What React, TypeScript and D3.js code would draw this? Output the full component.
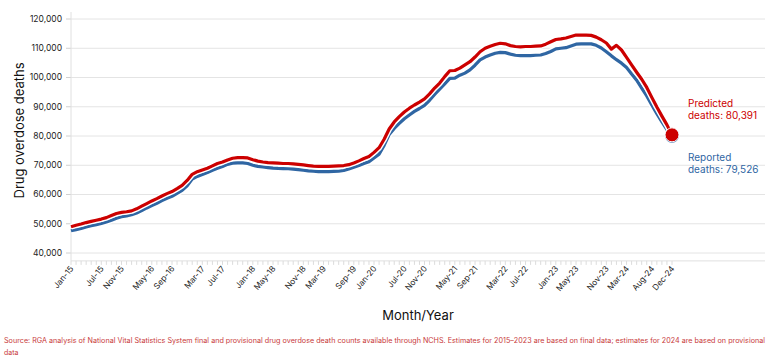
import React from "react";
import * as d3 from "d3";

const years = [15, 16, 17, 18, 19, 20, 21, 22, 23, 24];
const monthNames = ["Jan", "Feb", "Mar", "Apr", "May", "Jun", "Jul", "Aug", "Sep", "Oct", "Nov", "Dec"];
const months = years.flatMap((yr) => monthNames.map((m) => m + "-" + yr));

const shownLabels = [
  "Jan-15", "Jul-15", "Nov-15", "May-16", "Sep-16", "Mar-17", "Jul-17", "Jan-18", "May-18",
  "Nov-18", "Mar-19", "Sep-19", "Jan-20", "Jul-20", "Nov-20", "May-21", "Sep-21", "Mar-22",
  "Jul-22", "Jan-23", "May-23", "Nov-23", "Mar-24", "Aug-24", "Dec-24",
];

const yTicks = [40000, 50000, 60000, 70000, 80000, 90000, 100000, 110000, 120000];

// reported deaths (12-month counts), Jan-15 .. Dec-24
const reported = [
  47600, 48000, 48400, 48900, 49300, 49700, 50100, 50600, 51200, 51900, 52400, 52700,
  53100, 53700, 54500, 55400, 56200, 57000, 57900, 58700, 59400, 60400, 61400, 63000,
  65300, 66200, 66800, 67500, 68300, 69000, 69600, 70300, 70700, 70800, 70800, 70600,
  70000, 69600, 69400, 69200, 69000, 68900, 68850, 68800, 68700, 68500, 68300, 68100,
  67950, 67800, 67800, 67800, 67900, 67950, 68200, 68700, 69300, 69900, 70600, 71200,
  72500, 73800, 76800, 80500, 82600, 84300, 85900, 87200, 88400, 89400, 90500, 92200,
  94200, 96000, 97800, 99700, 99800, 100800, 101500, 102600, 104200, 106000, 107000, 107700,
  108300, 108600, 108500, 108000, 107600, 107500, 107500, 107500, 107600, 107700, 108200, 108900,
  109800, 110000, 110200, 110800, 111400, 111500, 111500, 111500, 111000, 110100, 108800, 107400,
  106100, 104900, 103400, 101200, 99100, 96400, 93700, 90600, 87600, 84800, 82200, 79526,
];

// predicted deaths, Jan-15 .. Dec-24
const predicted = [
  49000, 49500, 49900, 50400, 50800, 51200, 51600, 52100, 52800, 53500, 53900, 54100,
  54400, 55100, 56000, 56900, 57800, 58600, 59500, 60300, 61000, 62000, 63100, 64800,
  66900, 67800, 68400, 69000, 69800, 70600, 71100, 71800, 72400, 72600, 72600, 72500,
  71900, 71400, 71100, 70900, 70800, 70700, 70600, 70600, 70500, 70300, 70100, 69900,
  69700, 69600, 69600, 69600, 69700, 69800, 69900, 70200, 70800, 71500, 72300, 73000,
  74400, 76000, 78900, 82400, 84800, 86600, 88200, 89500, 90600, 91600, 92700, 94400,
  96400, 98100, 100300, 102300, 102400, 103200, 104300, 105400, 107000, 108800, 110000, 110700,
  111300, 111700, 111500, 110900, 110600, 110500, 110600, 110600, 110700, 110800, 111400, 112200,
  113000, 113200, 113500, 114000, 114500, 114500, 114500, 114400, 113800, 112900, 111800, 109700,
  111000, 109400, 106900, 104300, 101800, 99400, 96600, 93200, 89900, 86800, 83800, 80391,
];

const RED = "#cc0000";
const BLUE = "#2f66a3";
const FONT = "Inter, 'Open Sans', sans-serif";

export default function App() {
  const W = 778;
  const H = 364;
  const left = 71;
  const right = 672;
  const gridRight = 765;

  const x = d3.scaleLinear().domain([0, months.length - 1]).range([left, right]);
  const y = d3.scaleLinear().domain([40000, 120000]).range([253, 19]);
  const axisY = y(37300);
  const topY = y(122400);

  const line = d3
    .line<number>()
    .x((_, i) => x(i))
    .y((d) => y(d));

  const last = months.length - 1;
  const fmt = d3.format(",");

  return (
    <svg
      width={W}
      height={H}
      style={{ position: "absolute", left: 0, top: 0, background: "#fff" }}
      fontFamily={FONT}
    >
      {/* grid */}
      {yTicks.map((t) => (
        <g key={t}>
          <line x1={left} x2={gridRight} y1={y(t)} y2={y(t)} stroke="#e4e4e4" strokeWidth={1} />
          <line x1={left - 5} x2={left} y1={y(t)} y2={y(t)} stroke="#d0d0d0" strokeWidth={1} />
          <text x={left - 9} y={y(t)} dy="0.35em" textAnchor="end" fontSize={8.5} fill="#222">
            {fmt(t)}
          </text>
        </g>
      ))}
      <line x1={left} x2={left} y1={topY} y2={axisY} stroke="#e0e0e0" />
      <line x1={left} x2={gridRight} y1={axisY} y2={axisY} stroke="#e0e0e0" />

      {/* month ticks */}
      {months.map((m, i) => (
        <line key={m} x1={x(i)} x2={x(i)} y1={axisY} y2={axisY + 4} stroke="#dcdcdc" />
      ))}
      {shownLabels.map((lab) => {
        const i = months.indexOf(lab);
        return (
          <text
            key={lab}
            transform={`translate(${x(i) + 3},${axisY + 8}) rotate(-50)`}
            textAnchor="end"
            fontSize={8.2}
            fill="#222"
          >
            {lab}
          </text>
        );
      })}

      {/* series */}
      <path d={line(reported) || ""} fill="none" stroke="#fff" strokeWidth={6} strokeLinejoin="round" />
      <path d={line(reported) || ""} fill="none" stroke={BLUE} strokeWidth={3.2} strokeLinejoin="round" />
      <path d={line(predicted) || ""} fill="none" stroke="#fff" strokeWidth={6} strokeLinejoin="round" />
      <path d={line(predicted) || ""} fill="none" stroke={RED} strokeWidth={3.2} strokeLinejoin="round" />

      <circle cx={x(last)} cy={y(predicted[last]) + 1} r={7} fill={BLUE} />
      <circle cx={x(last)} cy={y(predicted[last])} r={7} fill={RED} stroke="#fff" strokeWidth={1} />

      {/* annotations */}
      <text x={688} y={107} fontSize={10} fill={RED}>Predicted</text>
      <text x={688} y={118.5} fontSize={10} fill={RED}>deaths: {fmt(predicted[last])}</text>
      <text x={688} y={161} fontSize={10} fill={BLUE}>Reported</text>
      <text x={688} y={172.5} fontSize={10} fill={BLUE}>deaths: {fmt(reported[last])}</text>

      {/* axis titles */}
      <text
        transform={`translate(24,${(topY + axisY) / 2 - 6}) rotate(-90)`}
        textAnchor="middle"
        fontSize={13}
        fill="#111"
      >
        Drug overdose deaths
      </text>
      <text x={418} y={320} textAnchor="middle" fontSize={13} fill="#111">
        Month/Year
      </text>

      {/* source */}
      <text x={4} y={343} fontSize={7} fill="#c8393a" textLength={761} lengthAdjust="spacingAndGlyphs">
        Source: RGA analysis of National Vital Statistics System final and provisional drug overdose death counts available through NCHS. Estimates for 2015–2023 are based on final data; estimates for 2024 are based on provisional
      </text>
      <text x={4} y={355} fontSize={7} fill="#c8393a">
        data
      </text>
    </svg>
  );
}
